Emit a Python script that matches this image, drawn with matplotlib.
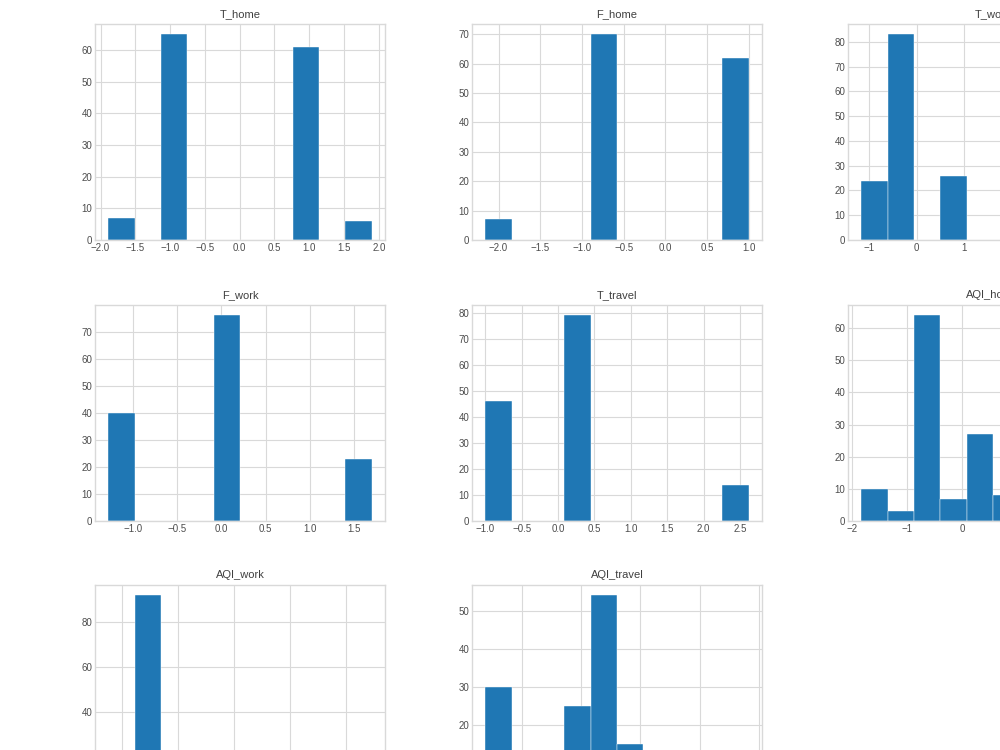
import numpy as np
import matplotlib
matplotlib.use("Agg")
import matplotlib.pyplot as plt

plt.style.use("seaborn-v0_8-whitegrid")

columns = ["T_home", "F_home", "T_work", "F_work", "T_travel", "AQI_home", "AQI_work", "AQI_travel"]

# data range (min, max) of each column, 10 equal bins as pandas .hist() does
ranges = {
    "T_home": (-1.89, 1.90),
    "F_home": (-2.16, 1.00),
    "T_work": (-1.17, 4.40),
    "F_work": (-1.28, 1.70),
    "T_travel": (-1.00, 2.62),
    "AQI_home": (-1.84, 2.96),
    "AQI_work": (-1.24, 3.46),
    "AQI_travel": (-1.62, 2.83),
}

# counts per bin
counts = {
    "T_home": [7, 0, 65, 0, 0, 0, 0, 61, 0, 6],
    "F_home": [7, 0, 0, 0, 70, 0, 0, 0, 0, 62],
    "T_work": [24, 83, 0, 26, 0, 0, 4, 0, 0, 2],
    "F_work": [40, 0, 0, 0, 76, 0, 0, 0, 0, 23],
    "T_travel": [46, 0, 0, 79, 0, 0, 0, 0, 0, 14],
    "AQI_home": [10, 3, 64, 7, 27, 8, 6, 8, 3, 3],
    "AQI_work": [15, 92, 18, 6, 4, 2, 1, 0, 0, 1],
    "AQI_travel": [30, 3, 5, 25, 54, 15, 4, 2, 0, 1],
}

W, H = 1000, 750
fig = plt.figure(figsize=(10, 7.5), dpi=100)

col_left = [95, 472, 848]
row_top = [24, 305, 585]
ax_w, ax_h = 290, 216

for i, name in enumerate(columns):
    r, c = divmod(i, 3)
    left = col_left[c] / W
    bottom = 1 - (row_top[r] + ax_h) / H
    ax = fig.add_axes([left, bottom, ax_w / W, ax_h / H])
    lo, hi = ranges[name]
    edges = np.linspace(lo, hi, 11)
    centers = (edges[:-1] + edges[1:]) / 2
    ax.hist(centers, bins=edges, weights=counts[name], color="#1f77b4",
            edgecolor="white", linewidth=0.3)
    ax.set_title(name, fontsize=8, color="0.25", pad=5)
    ax.tick_params(labelsize=7, colors="0.3", pad=2)
    for s in ax.spines.values():
        s.set_color("0.85")
    ax.grid(True, color="0.85", linewidth=0.8)

fig.savefig("out.png", dpi=100)
